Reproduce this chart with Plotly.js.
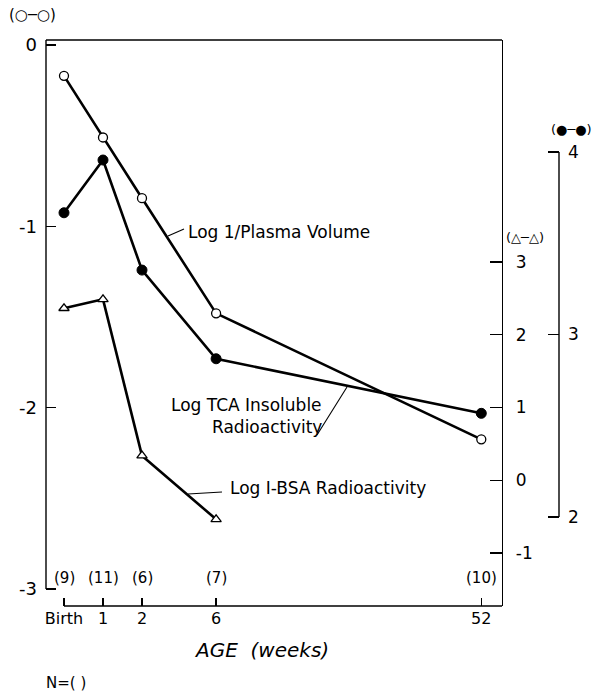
<!DOCTYPE html>
<html><head><meta charset="utf-8">
<script src="https://cdn.plot.ly/plotly-3.0.1.min.js"></script>
<style>body{margin:0;background:#fff}#chart{width:595px;height:692px}</style>
</head><body><div id="chart"></div><script>
// ---- data ----
const ageLabels = ['Birth', '1', '2', '6', '52'];
const ageScalePos = [0, 1, 2, 3.9, 10.7];          // broken age scale used in the figure
const sampleN = [9, 11, 6, 7, 10];
const logInvPlasmaVolume = [-0.17, -0.51, -0.845, -1.48, -2.175];   // (o-o) left axis
const logTcaInsoluble = [3.667, 3.956, 3.353, 2.867, 2.568];        // (●-●) far right axis
const logIBsa = [2.364, 2.487, 0.338, -0.537];                      // (Δ-Δ) right axis (Birth..6)
const leftTicks = [0, -1, -2, -3];
const triTicks = [3, 2, 1, 0, -1];
const dotTicks = [4, 3, 2];

// ---- layout helpers ----
const F = 'DejaVu Sans, Arial, sans-serif';
const W = 595, H = 692, ML = 46, MR = 36, MT = 40, MB = 86;
const plotW = W - ML - MR, plotH = H - MT - MB;
const xDomEnd = (502 - ML) / plotW;
const xRange = [-0.4615, 11.231];
const yRange = [-3.094, 0.0276];
const y2Range = [-1.7285, 6.0515];
const y3Range = [1.5123, 4.6137];
const px = v => (v - ML) / plotW;          // page px -> paper x
const py = v => (H - MB - v) / plotH;      // page px -> paper y
const lbl = (x, y, text, xanchor, size, extra) => Object.assign({
  x: px(x), y: py(y), xref: 'paper', yref: 'paper', text: text, showarrow: false,
  xanchor: xanchor, yanchor: 'middle', font: {family: F, size: size, color: '#000'}
}, extra || {});

const traces = [
  {x: ageScalePos, y: logInvPlasmaVolume, xaxis: 'x', yaxis: 'y', mode: 'lines+markers',
   line: {color: '#000', width: 2.6}, cliponaxis: false,
   marker: {symbol: 'circle', size: 9, color: '#fff', line: {color: '#000', width: 1.3}}},
  {x: ageScalePos, y: logTcaInsoluble, xaxis: 'x', yaxis: 'y3', mode: 'lines+markers',
   line: {color: '#000', width: 2.6}, cliponaxis: false,
   marker: {symbol: 'circle', size: 10, color: '#000', line: {color: '#000', width: 1}}},
  {x: ageScalePos.slice(0, logIBsa.length), y: logIBsa, xaxis: 'x', yaxis: 'y2', mode: 'lines+markers',
   line: {color: '#000', width: 2.6}, cliponaxis: false,
   marker: {symbol: 'triangle-up', size: 9, color: '#fff', line: {color: '#000', width: 1.3}}}
];

const annotations = [];
sampleN.forEach((n, i) => annotations.push({
  x: ageScalePos[i], y: py(578), xref: 'x', yref: 'paper', text: '(' + n + ')',
  showarrow: false, font: {family: F, size: 15, color: '#000'}, xanchor: 'center', yanchor: 'middle'
}));
annotations.push(
  lbl(7, 15, '(○─○)', 'left', 15),
  lbl(594, 129, '(●─●)', 'right', 13),
  lbl(504, 237, '(△─△)', 'left', 13),
  lbl(186, 232, 'Log 1/Plasma Volume', 'left', 17),
  lbl(324, 405, 'Log TCA Insoluble', 'right', 17),
  lbl(324, 427, 'Radioactivity', 'right', 17),
  lbl(228, 488, 'Log I-BSA Radioactivity', 'left', 17),
  lbl(192, 650, '<i>AGE  (weeks)</i>', 'left', 20),
  lbl(44, 683, 'N=( )', 'left', 15)
);

const lineStyle = {color: '#000', width: 1.4};
const leader = (x0, y0, x1, y1) => ({type: 'line', xref: 'paper', yref: 'paper',
  x0: px(x0), y0: py(y0), x1: px(x1), y1: py(y1), line: {color: '#000', width: 1.1}});
const shapes = [
  {type: 'line', xref: 'paper', yref: 'y', x0: 0, x1: 0, y0: -3, y1: yRange[1], line: lineStyle},
  {type: 'line', xref: 'paper', yref: 'paper', x0: 0, x1: xDomEnd, y0: 1, y1: 1, line: lineStyle},
  {type: 'line', xref: 'x', yref: 'paper', x0: 0, x1: xRange[1], y0: 0, y1: 0, line: lineStyle},
  {type: 'line', xref: 'paper', yref: 'y3', x0: 1, x1: 1, y0: 2, y1: 4, line: lineStyle},
  leader(168, 236, 184, 229),
  leader(317, 435, 347, 387),
  leader(188, 494, 222, 492)
];

const layout = {
  width: W, height: H, margin: {l: ML, r: MR, t: MT, b: MB},
  paper_bgcolor: '#fff', plot_bgcolor: 'rgba(0,0,0,0)', showlegend: false,
  xaxis: {domain: [0, xDomEnd], range: xRange, tickvals: ageScalePos, ticktext: ageLabels,
    ticks: 'inside', ticklen: 8, tickwidth: 1.3, tickcolor: '#000', showgrid: false, zeroline: false,
    showline: false, tickfont: {family: F, size: 16, color: '#000'}, ticklabelstandoff: 1},
  yaxis: {range: yRange, tickvals: leftTicks, ticktext: leftTicks.map(v => v < 0 ? '-' + Math.abs(v) : String(v)),
    ticks: 'inside', ticklen: 10, tickwidth: 1.3, tickcolor: '#000', showgrid: false, zeroline: false,
    showline: false, tickfont: {family: F, size: 18, color: '#000'}, ticklabelstandoff: 8},
  yaxis2: {overlaying: 'y', side: 'right', anchor: 'x', range: y2Range, tickvals: triTicks,
    ticktext: triTicks.map(v => v < 0 ? '-' + Math.abs(v) : String(v)),
    ticks: 'inside', ticklen: 12, tickwidth: 1.3, tickcolor: '#000', showgrid: false, zeroline: false,
    showline: true, linecolor: '#000', linewidth: 1.4, tickfont: {family: F, size: 17, color: '#000'},
    ticklabelstandoff: 9},
  yaxis3: {overlaying: 'y', side: 'right', anchor: 'free', position: 1, range: y3Range, tickvals: dotTicks,
    ticks: 'inside', ticklen: 11, tickwidth: 1.3, tickcolor: '#000', showgrid: false, zeroline: false,
    showline: false, tickfont: {family: F, size: 17, color: '#000'}, ticklabelstandoff: 8},
  annotations: annotations, shapes: shapes
};

Plotly.newPlot('chart', traces, layout, {staticPlot: true});
</script></body></html>
